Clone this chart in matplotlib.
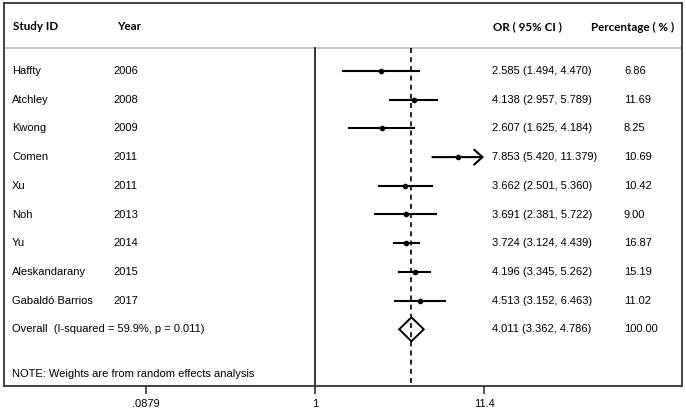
import numpy as np
import matplotlib
matplotlib.use('Agg')
import matplotlib.pyplot as plt
from matplotlib.transforms import blended_transform_factory

# ===== Data =====
studies = ['Haffty', 'Atchley', 'Kwong', 'Comen', 'Xu', 'Noh', 'Yu',
           'Aleskandarany', 'Gabaldó Barrios']
years = ['2006', '2008', '2009', '2011', '2011', '2013', '2014', '2015', '2017']
odds = [2.585, 4.138, 2.607, 7.853, 3.662, 3.691, 3.724, 4.196, 4.513]
lower = [1.494, 2.957, 1.625, 5.420, 2.501, 2.381, 3.124, 3.345, 3.152]
upper = [4.470, 5.789, 4.184, 11.379, 5.360, 5.722, 4.439, 5.262, 6.463]
weights = ['6.86', '11.69', '8.25', '10.69', '10.42', '9.00', '16.87', '15.19', '11.02']

overall_label = 'Overall  (I-squared = 59.9%, p = 0.011)'
overall_or, overall_lo, overall_hi = 4.011, 3.362, 4.786
overall_weight = '100.00'
note = 'NOTE: Weights are from random effects analysis'

tick_vals = [0.0879, 1, 11.4]
tick_labels = ['.0879', '1', '11.4']

# ===== Figure =====
W, H = 686, 411
fig = plt.figure(figsize=(W / 100, H / 100), dpi=100)
plt.rcParams['font.family'] = ['Liberation Sans', 'DejaVu Sans']

# axes frame in pixels
x0, x1, y0, y1 = 4, 682, 3, 386
ax = fig.add_axes([x0 / W, (H - y1) / H, (x1 - x0) / W, (y1 - y0) / H])

# log scale: 1 at px 315, 11.4 at px 484
ppu = (484 - 315) / np.log(11.4)
ax.set_xscale('log')
ax.set_xlim(np.exp((x0 - 315) / ppu), np.exp((x1 - 315) / ppu))

row_px = 28.7
def row_of(px):
    return 1 + (px - 71) / row_px
ax.set_ylim(row_of(y1), row_of(y0))

frame_col = '#333333'
for s in ax.spines.values():
    s.set_color(frame_col)
    s.set_linewidth(1.3)

ax.set_xticks(tick_vals)
ax.set_xticklabels(tick_labels, fontsize=8)
ax.xaxis.set_minor_locator(matplotlib.ticker.NullLocator())
ax.tick_params(axis='x', length=6, width=1.2, color=frame_col, pad=3)
ax.set_yticks([])

header_y = row_of(48)
ax.axhline(header_y, color='#bbbbbb', lw=1.2)

ybot = ax.get_ylim()[0]
ax.plot([1, 1], [header_y, ybot], color='#222222', lw=1.3)
ax.plot([overall_or, overall_or], [header_y, ybot], color='black', lw=1.2,
        ls=(0, (3, 2.5)))

rows = np.arange(1, len(studies) + 1)
xmax_tick = tick_vals[-1]
for r, o, lo, hi in zip(rows, odds, lower, upper):
    if hi >= xmax_tick * 0.99:
        # CI reaches the axis limit: Stata-style arrow
        ax.annotate('', xy=(xmax_tick, r), xytext=(lo, r),
                    arrowprops=dict(arrowstyle='->,head_length=0.5,head_width=0.45',
                                    color='black', lw=1.5,
                                    mutation_scale=12, shrinkA=0, shrinkB=0))
    else:
        ax.plot([lo, hi], [r, r], color='black', lw=1.5)
    ax.plot(o, r, 'o', color='black', ms=3)

# overall diamond
r_ov = len(studies) + 1
dh = 12 / row_px
ax.fill([overall_lo, overall_or, overall_hi, overall_or, overall_lo],
        [r_ov, r_ov - dh, r_ov, r_ov + dh, r_ov],
        facecolor='none', edgecolor='black', lw=1.4)

# ===== Text columns =====
def colx(px):
    return (px - x0) / (x1 - x0)
tr = blended_transform_factory(ax.transAxes, ax.transData)
hy = row_of(27)
hfont = dict(fontsize=8.4, fontweight='bold', family=['Lato', 'DejaVu Sans'], va='center')
ax.text(colx(13), hy, 'Study ID', transform=tr, **hfont)
ax.text(colx(117), hy, 'Year', transform=tr, **hfont)
ax.text(colx(493), hy, 'OR ( 95% CI )', transform=tr, **hfont)
ax.text(colx(591), hy, 'Percentage ( % )', transform=tr, **hfont)

bfont = dict(fontsize=8, va='center')
for r, name, yr, o, lo, hi, w in zip(rows, studies, years, odds, lower, upper, weights):
    ax.text(colx(12), r, name, transform=tr, **bfont)
    ax.text(colx(113), r, yr, transform=tr, **bfont)
    ax.text(colx(492), r, f'{o:.3f} ({lo:.3f}, {hi:.3f})', transform=tr, **bfont)
    ax.text(colx(624), r, w, transform=tr, **bfont)

ax.text(colx(12), r_ov, overall_label, transform=tr, **bfont)
ax.text(colx(492), r_ov,
        f'{overall_or:.3f} ({overall_lo:.3f}, {overall_hi:.3f})', transform=tr, **bfont)
ax.text(colx(624), r_ov, overall_weight, transform=tr, **bfont)
ax.text(colx(12), row_of(374), note, transform=tr, **bfont)

fig.savefig('out.png', dpi=100)
